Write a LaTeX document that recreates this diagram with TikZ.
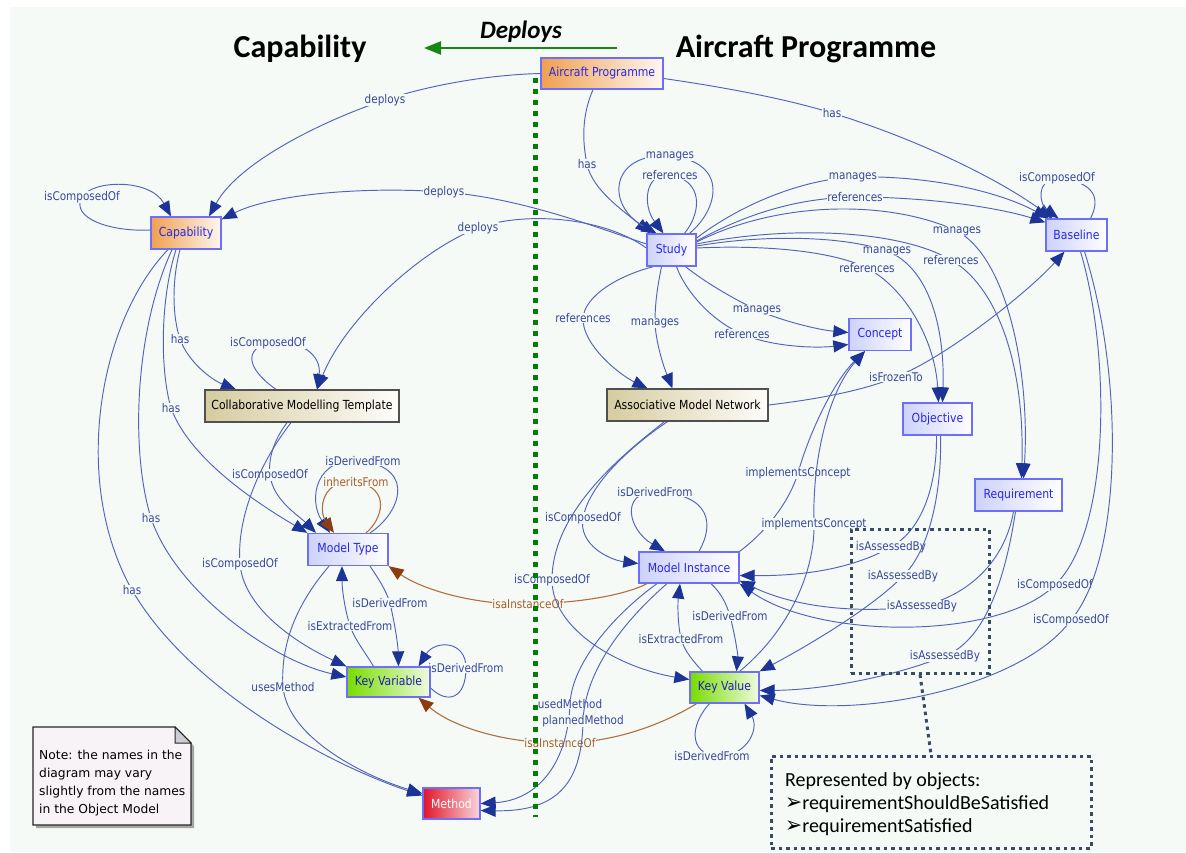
\documentclass[tikz,border=0pt]{standalone}
\usepackage{fontspec}
\usepackage{graphicx}
\usetikzlibrary{arrows.meta,calc}
\newfontfamily\lblfont[FakeStretch=0.87]{DejaVu Sans}
\newfontfamily\notefont{DejaVu Sans}
\newfontfamily\headfont{Carlito}
\newfontfamily\symfont{DejaVu Sans}
\definecolor{bgc}{RGB}{245,250,247}
\definecolor{edgeblue}{RGB}{84,100,186}
\definecolor{arrblue}{RGB}{28,52,150}
\definecolor{lblblue}{RGB}{55,70,155}
\definecolor{brownline}{RGB}{176,112,60}
\definecolor{brownarr}{RGB}{140,60,15}
\definecolor{brownlbl}{RGB}{165,95,40}
\definecolor{entborder}{RGB}{110,110,250}
\definecolor{enttext}{RGB}{40,40,230}
\definecolor{entlav}{RGB}{205,210,250}
\definecolor{orangec}{RGB}{240,160,80}
\definecolor{beigec}{RGB}{214,204,160}
\definecolor{beigeborder}{RGB}{80,80,80}
\definecolor{greenc}{RGB}{120,220,0}
\definecolor{kvtext}{RGB}{30,30,170}
\definecolor{redc}{RGB}{225,20,40}
\definecolor{pinkc}{RGB}{250,215,222}
\definecolor{dotc}{RGB}{55,75,105}
\definecolor{gdot}{RGB}{0,128,0}
\definecolor{deparr}{RGB}{20,135,20}
\definecolor{notefill}{RGB}{248,243,246}
\definecolor{foldc}{RGB}{205,205,212}
\pgfdeclarelayer{bglayer}
\pgfdeclarelayer{edgelayer}
\pgfdeclarelayer{toplayer}
\pgfsetlayers{bglayer,edgelayer,main,toplayer}
\newcommand{\bulletarrow}{\scalebox{1.2}[1.3]{\symfont\fontsize{17}{20}\selectfont ➢}}
\begin{document}
\begin{tikzpicture}[x=1pt,y=-1pt,
  ent/.style={draw=entborder, line width=1.3pt, left color=entlav, right color=white, text=enttext,
     font=\lblfont\fontsize{12.5}{14}\selectfont, minimum height=32pt, inner sep=0pt},
  orangeent/.style={ent, left color=orangec, right color=white!92!orangec},
  beigeent/.style={ent, draw=beigeborder, left color=beigec, right color=white!95!beigec, text=black},
  greenent/.style={ent, left color=greenc, right color=white!88!greenc, text=kvtext},
  redent/.style={ent, left color=redc, right color=pinkc, text=white},
  rel/.style={draw=edgeblue, line width=0.95pt, -{Triangle[length=15pt,width=12pt,color=arrblue]}},
  brel/.style={draw=brownline, line width=1.1pt, -{Triangle[length=15pt,width=12pt,color=brownarr]}},
  lbl/.style={font=\lblfont\fontsize{12}{14}\selectfont, text=lblblue, fill=bgc, inner sep=0.6pt},
  blbl/.style={lbl, text=brownlbl},
  annbox/.style={draw=dotc, line width=3pt, dash pattern=on 3.5pt off 4pt, inner sep=0pt},
]
\useasboundingbox (0,0) rectangle (1186,852);
\begin{pgfonlayer}{bglayer}
\fill[white] (0,0) rectangle (1186,852);
\fill[bgc] (10,7) rectangle (1186,852);
\end{pgfonlayer}

% headings
\node[font=\headfont\bfseries\fontsize{32}{36}\selectfont, anchor=base, inner sep=0pt] (hcap) at (300,57) {Capability};
\node[font=\headfont\bfseries\fontsize{32}{36}\selectfont, anchor=base, inner sep=0pt] (hap) at (806,57) {Aircraft Programme};
\node[font=\headfont\bfseries\itshape\fontsize{25}{28}\selectfont, anchor=base, inner sep=0pt] (hdep) at (521,38) {Deploys};
\coordinate (ga1) at (617,48);
\coordinate (ga2) at (424,48);
\draw[deparr, line width=2.4pt, -{Triangle[length=17pt,width=13pt]}] (ga1) -- (ga2);

% entities
\node[orangeent, minimum width=122pt, minimum height=31pt] (ap) at (602,73.5) {Aircraft Programme};
\node[orangeent, minimum width=70pt] (cap) at (186,233) {Capability};
\node[ent, minimum width=49pt] (study) at (671.5,250) {Study};
\node[ent, minimum width=61pt] (base) at (1076.5,235) {Baseline};
\node[ent, minimum width=62pt] (concept) at (880,334.5) {Concept};
\node[beigeent, minimum width=194pt] (cmt) at (302,406) {Collaborative Modelling Template};
\node[beigeent, minimum width=161pt] (amn) at (687.5,405) {Associative Model Network};
\node[ent, minimum width=69pt] (obj) at (937.5,419) {Objective};
\node[ent, minimum width=87pt] (req) at (1018.5,495) {Requirement};
\node[ent, minimum width=80pt] (mt) at (348,549.5) {Model Type};
\node[ent, minimum width=100pt, minimum height=31pt] (mi) at (689,567.5) {Model Instance};
\node[greenent, minimum width=83pt, minimum height=30pt] (kvar) at (388.5,682) {Key Variable};
\node[greenent, minimum width=69pt, minimum height=31pt] (kval) at (724.5,687.5) {Key Value};
\node[redent, minimum width=57pt, minimum height=31pt] (meth) at (451.5,803.5) {Method};

% note
\fill[black!35] (36,730) -- (178,730) -- (194,746) -- (194,828) -- (36,828) -- cycle;
\filldraw[fill=notefill, draw=black!85, line width=1.2pt] (33,727) -- (175,727) -- (191,743) -- (191,825) -- (33,825) -- cycle;
\filldraw[fill=foldc, draw=black!85, line width=1pt] (175,727) -- (175,743) -- (191,743) -- cycle;
\node[anchor=north west, align=left, inner sep=0pt, font=\notefont\fontsize{12.3}{18}\selectfont] (note) at (39,749.5)
  {Note: the names in the\\diagram may vary\\slightly from the names\\in the Object Model};

\begin{pgfonlayer}{edgelayer}
% Aircraft Programme
\draw[rel] (ap.west) .. controls (480,75) and (420,88) .. (385,100) node[lbl]{deploys} .. controls (330,118) and (240,160) .. ([xshift=23pt]cap.north);
\draw[rel] ([xshift=-9pt]ap.south) .. controls (582,115) and (582,140) .. (587,164) node[lbl]{has} .. controls (592,190) and (625,212) .. ([xshift=-21pt]study.north);
\draw[rel] ([yshift=-5pt]ap.east) .. controls (730,88) and (790,100) .. (832,113) node[lbl]{has} .. controls (920,140) and (1000,180) .. ([xshift=-24pt]base.north);
% Study loops
\draw[rel] ([xshift=18pt]study.north) .. controls (718,210) and (730,162) .. (670,156) node[lbl]{manages} .. controls (610,152) and (605,205) .. ([xshift=-15pt]study.north);
\draw[rel] ([xshift=13pt]study.north) .. controls (702,212) and (703,180) .. (670,175) node[lbl]{references} .. controls (645,172) and (642,205) .. ([xshift=-8pt]study.north);
% Study deploys
\draw[rel] ([yshift=6pt]study.west) .. controls (590,225) and (520,198) .. (444,192) node[lbl]{deploys} .. controls (360,186) and (270,195) .. ([yshift=-3pt]cap.north east);
\draw[rel] ([yshift=2pt]study.west) .. controls (600,215) and (520,212) .. (478,228) node[lbl]{deploys} .. controls (420,250) and (345,320) .. ([xshift=15pt]cmt.north);
% Capability
\draw[rel] ([yshift=3pt]cap.west) .. controls (110,232) and (70,218) .. (82,197) node[lbl]{isComposedOf} .. controls (92,180) and (150,178) .. ([xshift=-15pt]cap.north);
\draw[rel] ([xshift=-6pt]cap.south) .. controls (172,280) and (172,315) .. (180,339) node[lbl]{has} .. controls (188,362) and (212,380) .. ([xshift=-66pt]cmt.north);
\draw[rel] ([xshift=-10pt]cap.south) .. controls (160,300) and (160,370) .. (171,408) node[lbl]{has} .. controls (190,460) and (260,505) .. (mt.north west);
\draw[rel] ([xshift=-14pt]cap.south) .. controls (135,330) and (130,450) .. (151,518) node[lbl]{has} .. controls (175,590) and (270,660) .. ([yshift=5pt]kvar.west);
\draw[rel] ([xshift=-18pt]cap.south) .. controls (100,320) and (70,480) .. (132,590) node[lbl]{has} .. controls (190,690) and (330,765) .. ([yshift=8pt]meth.west);
% CMT
\draw[rel] ([xshift=-26pt]cmt.north) .. controls (255,375) and (238,352) .. (268,343) node[lbl]{isComposedOf} .. controls (300,338) and (322,355) .. ([xshift=15pt]cmt.north);
\draw[rel] ([xshift=-15pt]cmt.south) .. controls (274,440) and (268,458) .. (270,475) node[lbl]{isComposedOf} .. controls (273,500) and (298,515) .. ([xshift=-32pt]mt.north);
\draw[rel] ([xshift=-11pt]cmt.south) .. controls (262,460) and (236,515) .. (240,564) node[lbl]{isComposedOf} .. controls (244,610) and (300,645) .. (kvar.north west);
% Model Type
\draw[rel] ([xshift=22pt]mt.north) .. controls (398,515) and (418,470) .. (363,461) node[lbl]{isDerivedFrom} .. controls (315,455) and (308,500) .. ([xshift=-18pt]mt.north);
\draw[brel] ([xshift=18pt]mt.north) .. controls (382,520) and (392,488) .. (356,482) node[blbl]{inheritsFrom} .. controls (322,478) and (318,510) .. ([xshift=-14pt]mt.north);
\draw[rel] ([xshift=22pt]mt.south) .. controls (378,578) and (386,590) .. (390,603) node[lbl]{isDerivedFrom} .. controls (395,625) and (398,645) .. ([xshift=10pt]kvar.north);
\draw[rel] ([xshift=-15pt]kvar.north) .. controls (365,652) and (355,640) .. (350,626) node[lbl]{isExtractedFrom} .. controls (345,610) and (342,590) .. ([xshift=-6pt]mt.south);
\draw[rel] ([yshift=-6pt]kvar.east) .. controls (448,705) and (466,698) .. (466,668) node[lbl]{isDerivedFrom} .. controls (466,640) and (435,640) .. ([xshift=30pt]kvar.north);
\draw[rel] ([xshift=-19pt]mt.south) .. controls (300,600) and (280,640) .. (283,687) node[lbl]{usesMethod} .. controls (288,740) and (370,778) .. ([yshift=10pt]meth.west);
% isaInstanceOf
\draw[brel] ([xshift=-42pt]mi.south) .. controls (625,595) and (580,603) .. (528,604) node[blbl]{isaInstanceOf} .. controls (470,605) and (420,588) .. (mt.south east);
\draw[brel] ([xshift=-28pt]kval.south) .. controls (670,720) and (620,743) .. (560,743) node[blbl]{isaInstanceOf} .. controls (500,743) and (450,725) .. ([xshift=30pt]kvar.south);
% Study outgoing
\draw[rel] ([xshift=-18pt]study.south) .. controls (620,275) and (585,295) .. (583,318) node[lbl]{references} .. controls (582,345) and (620,375) .. ([xshift=-40pt]amn.north);
\draw[rel] ([xshift=-10pt]study.south) .. controls (658,285) and (655,300) .. (655,323) node[lbl]{manages} .. controls (656,345) and (665,370) .. ([xshift=-15pt]amn.north);
\draw[rel] ([xshift=14pt]study.south) .. controls (705,282) and (730,297) .. (757,310) node[lbl]{manages} .. controls (785,322) and (820,330) .. ([yshift=2pt]concept.west);
\draw[rel] ([xshift=5pt]study.south) .. controls (685,290) and (710,320) .. (742,334) node[lbl]{references} .. controls (775,348) and (820,348) .. ([yshift=-10pt]concept.west);
\draw[rel] ([yshift=12pt]study.east) .. controls (740,205) and (800,180) .. (853,177) node[lbl]{manages} .. controls (930,175) and (1000,192) .. ([xshift=-28pt]base.north);
\draw[rel] ([yshift=9pt]study.east) .. controls (750,212) and (800,198) .. (855,197) node[lbl]{references} .. controls (930,197) and (1000,208) .. ([yshift=-4pt]base.north west);
\draw[rel] ([yshift=4pt]study.east) .. controls (760,235) and (840,235) .. (887,251) node[lbl]{manages} .. controls (930,268) and (945,330) .. ([xshift=5pt]obj.north);
\draw[rel] ([yshift=2pt]study.east) .. controls (760,245) and (830,250) .. (867,268) node[lbl]{references} .. controls (905,288) and (935,340) .. ([xshift=1pt]obj.north);
\draw[rel] ([yshift=8pt]study.east) .. controls (780,200) and (890,200) .. (957,231) node[lbl]{manages} .. controls (1010,260) and (1030,380) .. ([xshift=5pt]req.north);
\draw[rel] ([yshift=6pt]study.east) .. controls (790,225) and (900,230) .. (951,260) node[lbl]{references} .. controls (995,285) and (1025,360) .. ([xshift=3pt]req.north);
% AMN
\draw[rel] (amn.east) .. controls (810,400) and (860,392) .. (896,377) node[lbl]{isFrozenTo} .. controls (950,355) and (1030,290) .. ([xshift=-12pt]base.south);
\draw[rel] ([xshift=-20pt]amn.south) .. controls (640,440) and (590,480) .. (583,518) node[lbl]{isComposedOf} .. controls (578,545) and (610,560) .. ([yshift=4pt]mi.west);
\draw[rel] ([xshift=-23pt]amn.south) .. controls (615,460) and (552,515) .. (552,580) node[lbl]{isComposedOf} .. controls (552,630) and (620,668) .. ([yshift=8pt]kval.west);
% Baseline
\draw[rel] ([xshift=14pt]base.north) .. controls (1100,200) and (1097,182) .. (1057,178) node[lbl]{isComposedOf} .. controls (1035,180) and (1040,205) .. ([xshift=-18pt]base.north);
\draw[rel] ([xshift=4pt]base.south) .. controls (1110,350) and (1112,530) .. (1055,585) node[lbl]{isComposedOf} .. controls (1000,640) and (820,640) .. (mi.south east);
\draw[rel] ([xshift=8pt]base.south) .. controls (1125,380) and (1122,560) .. (1071,620) node[lbl]{isComposedOf} .. controls (1020,690) and (850,720) .. ([yshift=-8pt]kval.east);
% Model Instance
\draw[rel] ([xshift=10pt]mi.north) .. controls (714,525) and (712,494) .. (655,492) node[lbl]{isDerivedFrom} .. controls (620,492) and (628,530) .. ([xshift=-24pt]mi.north);
\draw[rel] (mi.north east) .. controls (768,530) and (790,500) .. (798,473) node[lbl]{implementsConcept} .. controls (810,430) and (835,380) .. ([xshift=-15pt]concept.south);
\draw[rel] ([xshift=15pt]kval.north) .. controls (790,630) and (815,570) .. (814,524) node[lbl]{implementsConcept} .. controls (812,455) and (830,390) .. ([xshift=-15pt]concept.south);
\draw[rel] ([xshift=22pt]mi.south) .. controls (720,592) and (726,602) .. (730,616) node[lbl]{isDerivedFrom} .. controls (735,635) and (738,655) .. ([xshift=12pt]kval.north);
\draw[rel] ([xshift=-22pt]kval.north) .. controls (694,662) and (685,652) .. (681,639) node[lbl]{isExtractedFrom} .. controls (677,620) and (678,600) .. ([xshift=-9pt]mi.south);
\draw[rel] ([xshift=-15pt]kval.south) .. controls (694,720) and (686,748) .. (712,756) node[lbl]{isDerivedFrom} .. controls (745,760) and (760,730) .. ([xshift=20pt]kval.south);
\draw[rel] ([xshift=-32pt]mi.south) .. controls (620,610) and (572,660) .. (570,704) node[lbl]{usedMethod} .. controls (568,760) and (540,800) .. (meth.east);
\draw[rel] ([xshift=-22pt]mi.south) .. controls (625,620) and (585,670) .. (583,721) node[lbl]{plannedMethod} .. controls (582,780) and (560,812) .. ([yshift=-7pt]meth.east);
% Objective, Requirement
\draw[rel] ([xshift=-1pt]obj.south) .. controls (937,480) and (925,528) .. (891,547) node[lbl]{isAssessedBy} .. controls (850,570) and (800,576) .. ([yshift=-8pt]mi.east);
\draw[rel] ([xshift=3pt]obj.south) .. controls (942,490) and (930,550) .. (903,576) node[lbl]{isAssessedBy} .. controls (870,610) and (800,650) .. (kval.north east);
\draw[rel] ([xshift=-5pt]req.south) .. controls (1005,560) and (970,595) .. (922,606) node[lbl]{isAssessedBy} .. controls (850,615) and (790,605) .. ([yshift=3pt]mi.south east);
\draw[rel] ([xshift=-3pt]req.south) .. controls (1005,580) and (985,640) .. (945,656) node[lbl]{isAssessedBy} .. controls (890,678) and (820,690) .. ([yshift=-3pt]kval.east);
\end{pgfonlayer}

\begin{pgfonlayer}{toplayer}
\coordinate (gtop) at (535,78);
\coordinate (gbot) at (535,817);
\draw[gdot, line width=5pt, dash pattern=on 5pt off 6pt] (gtop) -- (gbot);
\node[annbox, minimum width=138pt, minimum height=144pt] (ann1) at (920,601) {};
\node[annbox, minimum width=320pt, minimum height=92pt] (ann2) at (931,802) {};
\draw[dotc, line width=3pt, dash pattern=on 3.5pt off 4pt] (ann1.south) -- (ann2.north);
\node[anchor=base west, inner sep=0pt, font=\headfont\fontsize{20}{24}\selectfont] (rb0) at (785,786) {Represented by objects:};
\node[anchor=base west, inner sep=0pt, font=\headfont\fontsize{20}{24}\selectfont] (rb1) at (785,809) {\bulletarrow requirementShouldBeSatisfied};
\node[anchor=base west, inner sep=0pt, font=\headfont\fontsize{20}{24}\selectfont] (rb2) at (785,832) {\bulletarrow requirementSatisfied};
\end{pgfonlayer}
\end{tikzpicture}
\end{document}
